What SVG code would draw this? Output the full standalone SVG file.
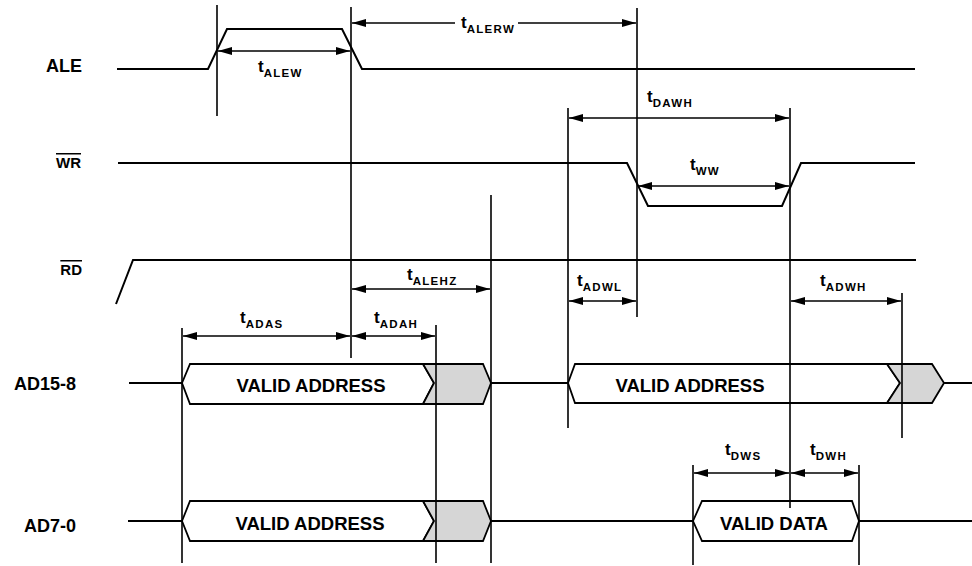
<svg xmlns="http://www.w3.org/2000/svg" width="972" height="566" viewBox="0 0 972 566">
<defs>
<marker id="ah" markerUnits="userSpaceOnUse" markerWidth="15" markerHeight="8" refX="14" refY="4" orient="auto-start-reverse">
<path d="M0,0 L14,4 L0,8 z" fill="#000"/>
</marker>
<style>
.sig{font-family:"Liberation Sans",Arial,sans-serif;font-weight:bold;fill:#000;text-anchor:end}
.big{font-size:18px}
.small{font-size:15px;text-decoration:overline}
.wave{fill:none;stroke:#000;stroke-width:2;stroke-linejoin:miter}
.bus{stroke:#000;stroke-width:1.8;stroke-linejoin:miter}
.valid{fill:#fff}
.gray{fill:#d6d6d6}
.bt{font-family:"Liberation Sans",Arial,sans-serif;font-weight:bold;font-size:18.5px;fill:#000;text-anchor:middle}
.vl{stroke:#000;stroke-width:1.6;fill:none}
.ar{stroke:#000;stroke-width:1.3;fill:none;marker-start:url(#ah);marker-end:url(#ah)}
.tl{font-family:"Liberation Sans",Arial,sans-serif;font-weight:bold;font-size:17px;fill:#000}
.sub{font-size:11.5px;letter-spacing:1.3px}
</style>
</defs>
<rect width="972" height="566" fill="#fff"/>

<g id="ALE">
<text class="sig big" x="82" y="72">ALE</text>
<path class="wave" d="M117,69 L208,69 L227,29 L342,29 L362,69 L915,69"/>
</g>

<g id="WR">
<text class="sig small" x="81" y="168">WR</text>
<path class="wave" d="M118,163 L627,163 L648,206 L782,206 L801,163 L915,163"/>
</g>

<g id="RD">
<text class="sig small" x="82" y="275">RD</text>
<path class="wave" d="M116,304 L133,260 L916,260"/>
</g>

<g id="AD15-8">
<text class="sig big" x="76" y="390">AD15-8</text>
<path class="wave" d="M129,383 L182,383"/>
<path class="bus valid" d="M182,383 L190,364 L423,364 L434,383 L423,404 L190,404 Z"/>
<path class="bus gray" d="M423,364 L483,364 L491,383 L483,404 L423,404 L434,383 Z"/>
<text class="bt" x="311" y="392">VALID ADDRESS</text>
<path class="wave" d="M491,383 L568,383"/>
<path class="bus valid" d="M568,383 L575,364 L887,364 L900,383 L887,403 L575,403 Z"/>
<path class="bus gray" d="M887,364 L932,364 L944,383 L932,403 L887,403 L900,383 Z"/>
<text class="bt" x="690" y="392">VALID ADDRESS</text>
<path class="wave" d="M944,383 L972,383"/>
</g>

<g id="AD7-0">
<text class="sig big" x="76" y="532">AD7-0</text>
<path class="wave" d="M128,521 L182,521"/>
<path class="bus valid" d="M182,521 L190,501 L423,501 L434,521 L423,541 L190,541 Z"/>
<path class="bus gray" d="M423,501 L483,501 L491,521 L483,541 L423,541 L434,521 Z"/>
<text class="bt" x="310" y="530">VALID ADDRESS</text>
<path class="wave" d="M491,521 L693,521"/>
<path class="bus valid" d="M693,521 L702,501 L852,501 L859,521 L852,541 L702,541 Z"/>
<text class="bt" x="774" y="530">VALID DATA</text>
<path class="wave" d="M859,521 L972,521"/>
</g>

<g id="connectors">
<line class="vl" x1="217" y1="5" x2="217" y2="116"/>
<line class="vl" x1="351" y1="7" x2="351" y2="358"/>
<line class="vl" x1="637" y1="8" x2="637" y2="317"/>
<line class="vl" x1="568" y1="108" x2="568" y2="428"/>
<line class="vl" x1="790" y1="108" x2="790" y2="508"/>
<line class="vl" x1="491" y1="195" x2="491" y2="563"/>
<line class="vl" x1="436" y1="325" x2="436" y2="563"/>
<line class="vl" x1="182" y1="328" x2="182" y2="563"/>
<line class="vl" x1="902" y1="293" x2="902" y2="438"/>
<line class="vl" x1="693" y1="465" x2="693" y2="565"/>
<line class="vl" x1="859" y1="465" x2="859" y2="565"/>

<line class="ar" x1="218" y1="51" x2="350" y2="51"/>
<line class="ar" x1="352" y1="23" x2="636" y2="23"/>
<line class="ar" x1="569" y1="118" x2="789" y2="118"/>
<line class="ar" x1="638" y1="186" x2="789" y2="186"/>
<line class="ar" x1="352" y1="289" x2="490" y2="289"/>
<line class="ar" x1="183" y1="336" x2="350" y2="336"/>
<line class="ar" x1="352" y1="336" x2="435" y2="336"/>
<line class="ar" x1="569" y1="301" x2="636" y2="301"/>
<line class="ar" x1="791" y1="301" x2="901" y2="301"/>
<line class="ar" x1="694" y1="473" x2="789" y2="473"/>
<line class="ar" x1="791" y1="473" x2="858" y2="473"/>
</g>

<g id="labels">
<rect x="455" y="13" width="63" height="22" fill="#fff"/>
<text class="tl" x="461" y="28">t<tspan class="sub" dy="5">ALERW</tspan></text>
<text class="tl" x="258" y="72">t<tspan class="sub" dy="5">ALEW</tspan></text>
<text class="tl" x="647" y="102">t<tspan class="sub" dy="5">DAWH</tspan></text>
<text class="tl" x="690" y="170">t<tspan class="sub" dy="5">WW</tspan></text>
<text class="tl" x="407" y="280">t<tspan class="sub" dy="5">ALEHZ</tspan></text>
<text class="tl" x="240" y="323">t<tspan class="sub" dy="5">ADAS</tspan></text>
<text class="tl" x="374" y="323">t<tspan class="sub" dy="5">ADAH</tspan></text>
<text class="tl" x="577" y="286">t<tspan class="sub" dy="5">ADWL</tspan></text>
<text class="tl" x="820" y="286">t<tspan class="sub" dy="5">ADWH</tspan></text>
<text class="tl" x="725" y="455">t<tspan class="sub" dy="5">DWS</tspan></text>
<text class="tl" x="810" y="455">t<tspan class="sub" dy="5">DWH</tspan></text>
</g>
</svg>
